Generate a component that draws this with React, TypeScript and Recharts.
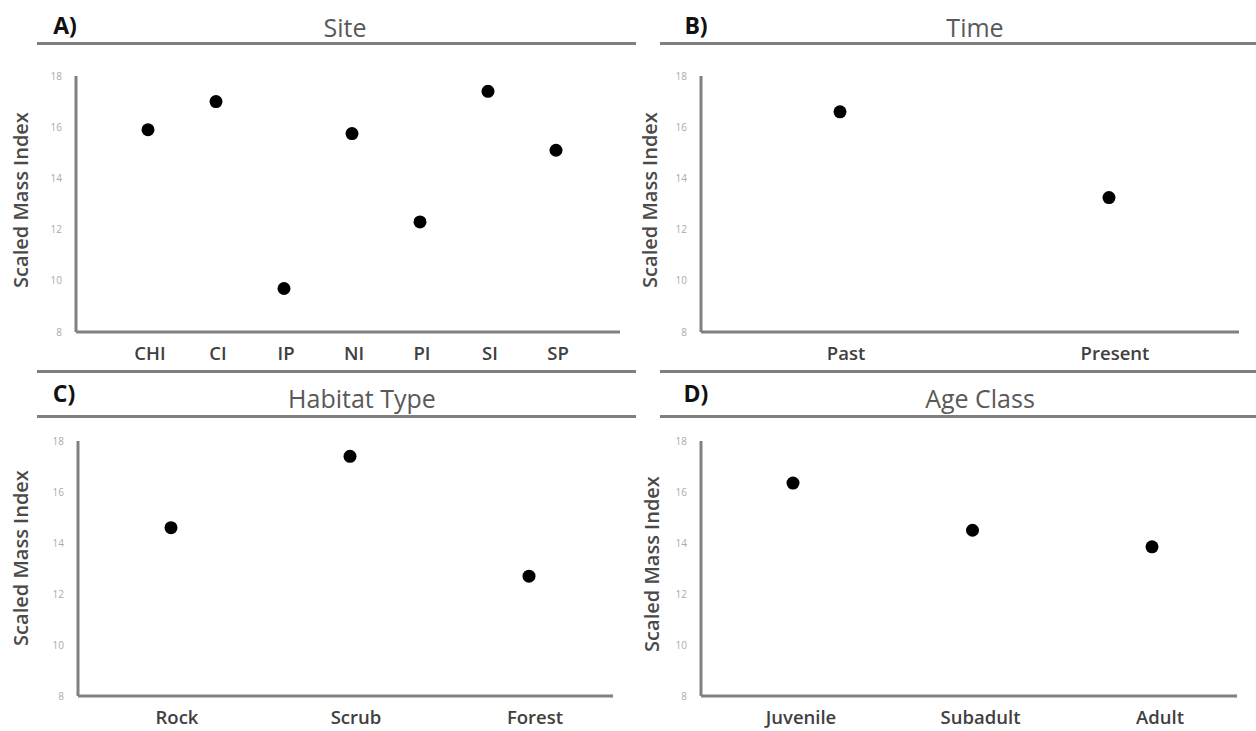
import React from 'react';
import { ComposedChart, Scatter, XAxis, YAxis } from 'recharts';

// values
const siteNames = ['CHI', 'CI', 'IP', 'NI', 'PI', 'SI', 'SP'];
const siteValues = [15.9, 17.0, 9.7, 15.75, 12.3, 17.4, 15.1];

const timeNames = ['Past', 'Present'];
const timeValues = [16.6, 13.25];

const habitatNames = ['Rock', 'Scrub', 'Forest'];
const habitatValues = [14.6, 17.4, 12.7];

const ageNames = ['Juvenile', 'Subadult', 'Adult'];
const ageValues = [16.35, 14.5, 13.85];

const yTicks = [8, 10, 12, 14, 16, 18];
const yLabel = 'Scaled Mass Index';

const FONT = '"Open Sans", "Noto Sans", sans-serif';
const AXIS_GREY = '#808080';

interface PanelProps {
  names: string[];
  values: number[];
  left: number;
  top: number;
  width: number;
  height: number;
  margin: { top: number; right: number; bottom: number; left: number };
  padding: { left: number; right: number };
  tickDx: number;
}

const Dot = (props: any) => <circle cx={props.cx} cy={props.cy} r={6.5} fill="#000" />;

const Panel: React.FC<PanelProps> = ({ names, values, left, top, width, height, margin, padding, tickDx }) => {
  const data = names.map((name, i) => ({ name, value: values[i] }));
  return (
    <div style={{ position: 'absolute', left, top }}>
      <ComposedChart width={width} height={height} data={data} margin={margin}>
        <XAxis
          dataKey="name"
          type="category"
          scale="point"
          padding={padding}
          height={30}
          tickLine={false}
          tickMargin={9}
          axisLine={{ stroke: AXIS_GREY, strokeWidth: 3 }}
          tick={{ fontSize: 18.5, fontWeight: 600, fill: '#404040', fontFamily: FONT, dx: tickDx }}
          interval={0}
        />
        <YAxis
          type="number"
          domain={[8, 18]}
          ticks={yTicks}
          width={40}
          tickLine={false}
          tickMargin={8}
          axisLine={{ stroke: AXIS_GREY, strokeWidth: 3 }}
          tick={{ fontSize: 10, fill: '#ababab', fontFamily: FONT }}
        />
        <Scatter dataKey="value" shape={Dot} isAnimationActive={false} />
      </ComposedChart>
    </div>
  );
};

const HLine = ({ x1, x2, y }: { x1: number; x2: number; y: number }) => (
  <div style={{ position: 'absolute', left: x1, top: y - 1.5, width: x2 - x1, height: 3, background: '#7f7f7f' }} />
);

const Centered = ({ x, y, children, style }: { x: number; y: number; children: React.ReactNode; style?: React.CSSProperties }) => (
  <div
    style={{
      position: 'absolute',
      left: x,
      top: y,
      transform: 'translate(-50%, -50%)',
      whiteSpace: 'nowrap',
      lineHeight: 1,
      ...style,
    }}
  >
    {children}
  </div>
);

const letterStyle: React.CSSProperties = { fontSize: 23, fontWeight: 700, color: '#111' };
const titleStyle: React.CSSProperties = { fontSize: 25, color: '#595959' };
const yLabelStyle: React.CSSProperties = {
  fontSize: 20,
  fontWeight: 600,
  color: '#4a4a4a',
  transform: 'translate(-50%, -50%) rotate(-90deg)',
};

export default function App() {
  return (
    <div style={{ position: 'absolute', left: 0, top: 0, width: 1256, height: 731, background: '#fff', fontFamily: FONT, overflow: 'hidden' }}>
      {/* header rules */}
      <HLine x1={37} x2={636} y={43} />
      <HLine x1={660} x2={1256} y={43} />
      <HLine x1={37} x2={636} y={371} />
      <HLine x1={660} x2={1256} y={371} />
      <HLine x1={37} x2={636} y={416} />
      <HLine x1={660} x2={1256} y={416} />

      {/* panel letters and titles */}
      <Centered x={65} y={25} style={letterStyle}>A)</Centered>
      <Centered x={345} y={27} style={titleStyle}>Site</Centered>
      <Centered x={696} y={25} style={letterStyle}>B)</Centered>
      <Centered x={975} y={27} style={titleStyle}>Time</Centered>
      <Centered x={64} y={393} style={letterStyle}>C)</Centered>
      <Centered x={362} y={398} style={titleStyle}>Habitat Type</Centered>
      <Centered x={696} y={393} style={letterStyle}>D)</Centered>
      <Centered x={980} y={398} style={titleStyle}>Age Class</Centered>

      {/* y axis titles */}
      <Centered x={21} y={200} style={yLabelStyle}>{yLabel}</Centered>
      <Centered x={650} y={200} style={yLabelStyle}>{yLabel}</Centered>
      <Centered x={21} y={558} style={yLabelStyle}>{yLabel}</Centered>
      <Centered x={652} y={564} style={yLabelStyle}>{yLabel}</Centered>

      <Panel
        names={siteNames}
        values={siteValues}
        left={0}
        top={60}
        width={640}
        height={310}
        margin={{ top: 16, right: 20, bottom: 8, left: 36 }}
        padding={{ left: 72, right: 64 }}
        tickDx={2}
      />
      <Panel
        names={timeNames}
        values={timeValues}
        left={630}
        top={60}
        width={626}
        height={310}
        margin={{ top: 16, right: 17, bottom: 8, left: 31 }}
        padding={{ left: 139, right: 130 }}
        tickDx={6}
      />
      <Panel
        names={habitatNames}
        values={habitatValues}
        left={0}
        top={425}
        width={640}
        height={306}
        margin={{ top: 16, right: 27, bottom: 5, left: 38 }}
        padding={{ left: 93, right: 84 }}
        tickDx={6}
      />
      <Panel
        names={ageNames}
        values={ageValues}
        left={630}
        top={425}
        width={626}
        height={306}
        margin={{ top: 16, right: 19, bottom: 5, left: 31 }}
        padding={{ left: 92, right: 85 }}
        tickDx={8}
      />
    </div>
  );
}
